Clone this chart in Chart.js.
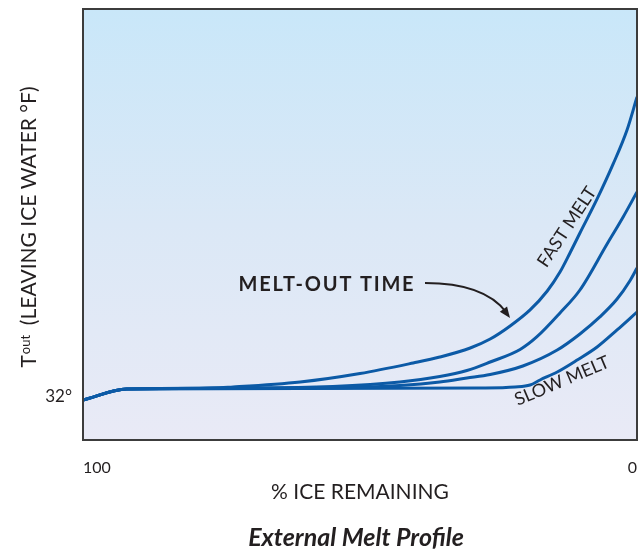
<!DOCTYPE html>
<html>
<head>
<meta charset="utf-8">
<title>External Melt Profile</title>
<script src="https://cdn.jsdelivr.net/npm/chart.js@4.4.1/dist/chart.umd.min.js"></script>
<style>
  html, body { margin: 0; padding: 0; background: #ffffff; }
  #wrap { width: 644px; height: 551px; }
</style>
</head>
<body>
<div id="wrap"><canvas id="meltChart" width="644" height="551"></canvas></div>
<script>
// --- dados (x = % de gelo restante, y = Tout em °F, escala livre) ---
const xTicks = [0, 100];
const yTicks = [32];

const fastX = [100, 92.1, 78.9, 72.9, 60.8, 50.0, 40.4, 35.6, 30.1, 26.5, 22.9, 19.3, 16.2, 13.9, 12.1, 10.3, 7.2, 4.3, 1.8, 0];
const fastY = [31.71, 32.73, 32.78, 32.92, 33.38, 34.17, 35.15, 35.70, 36.54, 37.37, 38.58, 40.07, 41.83, 43.59, 45.36, 47.21, 50.37, 53.62, 56.77, 59.83];

const midFastX = [100, 92.1, 68.1, 54.9, 42.8, 35.6, 30.7, 26.5, 21.1, 18.1, 13.9, 10.3, 5.4, 2.5, 0];
const midFastY = [31.71, 32.73, 32.83, 32.97, 33.38, 33.89, 34.45, 35.24, 36.40, 37.56, 39.79, 41.92, 46.19, 48.70, 51.02];

const midSlowX = [100, 92.1, 55.4, 42.8, 35.6, 30.7, 26.5, 20.6, 14.4, 10.3, 6.7, 3.6, 1.3, 0];
const midSlowY = [31.71, 32.73, 32.83, 33.06, 33.38, 33.75, 34.08, 34.87, 36.35, 37.84, 39.42, 41.08, 42.76, 43.96];

const slowX = [100, 92.1, 60.8, 28.3, 22.0, 19.3, 17.5, 14.4, 10.8, 7.2, 3.6, 0];
const slowY = [31.71, 32.73, 32.78, 32.83, 32.92, 33.10, 33.57, 34.31, 35.42, 36.63, 38.21, 39.88];

const lineColor = '#0c5aa6';
const textColor = '#231f20';
const fontFamily = 'Lato, "DejaVu Sans", sans-serif';

function toPoints(xs, ys) {
    return xs.map((x, i) => ({ x: x, y: ys[i] }));
}

function makeDataset(label, xs, ys) {
    return {
        label: label,
        data: toPoints(xs, ys),
        borderColor: lineColor,
        borderWidth: 3,
        pointRadius: 0,
        showLine: true,
        fill: false,
        cubicInterpolationMode: 'monotone'
    };
}

// --- fundo em degradê dentro da área do gráfico ---
const backgroundPlugin = {
    id: 'areaBackground',
    beforeDraw(chart) {
        const { ctx, chartArea: a } = chart;
        const g = ctx.createLinearGradient(0, a.top, 0, a.bottom);
        g.addColorStop(0, '#c9e7f9');
        g.addColorStop(0.5, '#dbe8f6');
        g.addColorStop(1, '#e9eaf6');
        ctx.save();
        ctx.fillStyle = g;
        ctx.fillRect(a.left, a.top, a.right - a.left, a.bottom - a.top);
        ctx.restore();
    }
};

// --- moldura, títulos e anotações ---
const annotationPlugin = {
    id: 'annotations',
    afterDraw(chart) {
        const { ctx, chartArea: a } = chart;
        ctx.save();

        // moldura
        ctx.strokeStyle = '#3c3c3c';
        ctx.lineWidth = 2;
        ctx.strokeRect(a.left, a.top, a.right - a.left, a.bottom - a.top);

        ctx.fillStyle = textColor;

        // título do eixo y: "Tout (LEAVING ICE WATER °F)"
        const big = '21px ' + fontFamily;
        const small = '13px ' + fontFamily;
        const rest = '  (LEAVING ICE WATER °F)';
        ctx.font = big;
        const wT = ctx.measureText('T').width;
        const wRest = ctx.measureText(rest).width;
        ctx.font = small;
        const wOut = ctx.measureText('out').width;
        const total = wT + wOut + wRest;
        ctx.save();
        ctx.translate(36, 227 + total / 2);
        ctx.rotate(-Math.PI / 2);
        ctx.textBaseline = 'alphabetic';
        ctx.textAlign = 'left';
        ctx.font = big;
        ctx.fillText('T', 0, 0);
        ctx.font = small;
        ctx.fillText('out', wT + 1, -6);
        ctx.font = big;
        ctx.fillText(rest, wT + wOut, 0);
        ctx.restore();

        // MELT-OUT TIME + seta
        ctx.font = 'bold 20px ' + fontFamily;
        ctx.textAlign = 'center';
        ctx.textBaseline = 'middle';
        ctx.letterSpacing = '1.8px';
        ctx.fillText('MELT-OUT TIME', 327, 285);
        ctx.letterSpacing = '0px';

        const p0 = { x: 425, y: 283 };
        const c = { x: 484, y: 283 };
        const p1 = { x: 510, y: 318 };
        ctx.strokeStyle = textColor;
        ctx.lineWidth = 2;
        ctx.beginPath();
        ctx.moveTo(p0.x, p0.y);
        ctx.quadraticCurveTo(c.x, c.y, p1.x - 4, p1.y - 6);
        ctx.stroke();
        const ang = Math.atan2(p1.y - c.y, p1.x - c.x);
        ctx.beginPath();
        ctx.moveTo(p1.x, p1.y);
        ctx.lineTo(p1.x - 11 * Math.cos(ang) + 4.5 * Math.sin(ang), p1.y - 11 * Math.sin(ang) - 4.5 * Math.cos(ang));
        ctx.lineTo(p1.x - 11 * Math.cos(ang) - 4.5 * Math.sin(ang), p1.y - 11 * Math.sin(ang) + 4.5 * Math.cos(ang));
        ctx.closePath();
        ctx.fill();

        // FAST MELT / SLOW MELT
        ctx.font = '18px ' + fontFamily;
        ctx.save();
        ctx.translate(567, 227);
        ctx.rotate(-56.5 * Math.PI / 180);
        ctx.fillText('FAST MELT', 0, 0);
        ctx.restore();

        ctx.save();
        ctx.translate(562, 381);
        ctx.rotate(-23 * Math.PI / 180);
        ctx.fillText('SLOW MELT', 0, 0);
        ctx.restore();

        // legenda inferior
        ctx.font = 'italic bold 25px ' + fontFamily;
        ctx.fillText('External Melt Profile', 356, 538);

        ctx.restore();
    }
};

const ctx = document.getElementById('meltChart').getContext('2d');
new Chart(ctx, {
    type: 'scatter',
    data: {
        datasets: [
            makeDataset('Fast melt', fastX, fastY),
            makeDataset('Medium-fast melt', midFastX, midFastY),
            makeDataset('Medium-slow melt', midSlowX, midSlowY),
            makeDataset('Slow melt', slowX, slowY)
        ]
    },
    options: {
        responsive: false,
        animation: false,
        layout: { padding: { top: 9, right: 7, left: 0, bottom: 0 } },
        plugins: {
            legend: { display: false },
            tooltip: { enabled: false }
        },
        scales: {
            x: {
                type: 'linear',
                position: 'bottom',
                reverse: true,
                min: 0,
                max: 100,
                grid: { display: false, drawTicks: false },
                border: { display: false },
                afterBuildTicks: (scale) => { scale.ticks = xTicks.map(v => ({ value: v })); },
                afterFit: (scale) => {
                    scale.height = 111;
                    scale.paddingLeft = 0;
                    scale.paddingRight = 0;
                },
                ticks: {
                    align: 'inner',
                    padding: 18,
                    color: textColor,
                    font: { family: fontFamily, size: 16 },
                    callback: (v) => String(v)
                },
                title: {
                    display: true,
                    text: '% ICE REMAINING',
                    color: textColor,
                    font: { family: fontFamily, size: 21 },
                    padding: { top: 0, bottom: 46 }
                }
            },
            y: {
                type: 'linear',
                min: 28,
                max: 68,
                grid: { display: false, drawTicks: false },
                border: { display: false },
                afterBuildTicks: (scale) => { scale.ticks = yTicks.map(v => ({ value: v })); },
                afterFit: (scale) => {
                    scale.width = 83;
                    scale.paddingTop = 0;
                    scale.paddingBottom = 0;
                },
                ticks: {
                    padding: 11,
                    color: textColor,
                    font: { family: fontFamily, size: 17 },
                    callback: (v) => v + '°'
                }
            }
        }
    },
    plugins: [backgroundPlugin, annotationPlugin]
});
</script>
</body>
</html>
